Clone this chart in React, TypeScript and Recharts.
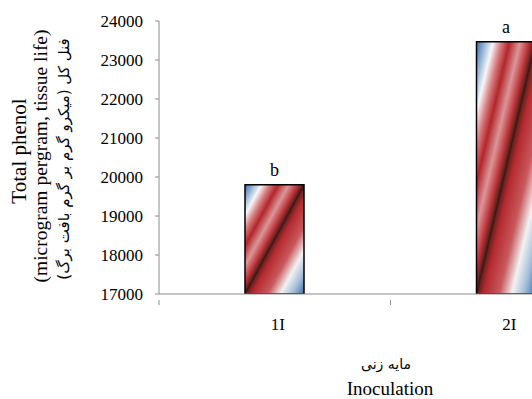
import React from "react";
import { BarChart, Bar, XAxis, YAxis, LabelList, Label } from "recharts";

// values
const categories = ["1I", "2I"];
const phenol = [19800, 23470];
const letters = ["b", "a"];
const yTicks = [17000, 18000, 19000, 20000, 21000, 22000, 23000, 24000];

const data = categories.map((c, i) => ({ name: c, phenol: phenol[i], letter: letters[i] }));

const SERIF = "'Liberation Serif', 'Times New Roman', serif";
const ARABIC = "'DejaVu Sans', 'Noto Sans', sans-serif";

function XTick(props: any) {
  const { x, y, payload } = props;
  const half = payload?.offset ?? 0;
  return (
    <g>
      <line x1={x - half} y1={y - 2} x2={x - half} y2={y + 3} stroke="#8c8c8c" strokeWidth={1} />
      <text x={x + 3} y={y + 28} textAnchor="middle" fontFamily={SERIF} fontSize={17} fill="#000">
        {payload.value}
      </text>
    </g>
  );
}

function YTick(props: any) {
  const { x, y, payload } = props;
  return (
    <text x={x} y={y} dy={6} textAnchor="end" fontFamily={SERIF} fontSize={17} fill="#000">
      {payload.value}
    </text>
  );
}

function YTitle(props: any) {
  return (
    <g>
      <text transform="translate(21, 151) rotate(-90)" textAnchor="middle" dominantBaseline="middle" fontFamily={SERIF} fontSize={21} fill="#000">
        Total phenol
      </text>
      <text transform="translate(43, 156) rotate(-90)" textAnchor="middle" dominantBaseline="middle" fontFamily={SERIF} fontSize={19.5} fill="#000">
        (microgram pergram, tissue life)
      </text>
      <text transform="translate(64, 159) rotate(-90)" textAnchor="middle" dominantBaseline="middle" fontFamily={ARABIC} fontSize={15} fill="#000" direction="rtl">
        فنل کل (میکرو گرم بر گرم بافت برگ)
      </text>
    </g>
  );
}

function XTitle() {
  return (
    <g>
      <text x={386} y={369} textAnchor="middle" fontFamily={ARABIC} fontSize={14} fill="#000" direction="rtl">
        مایه زنی
      </text>
      <text x={390} y={395} textAnchor="middle" fontFamily={SERIF} fontSize={19} fill="#000">
        Inoculation
      </text>
    </g>
  );
}

export default function App() {
  return (
    <div style={{ position: "absolute", left: 0, top: 0, width: 532, height: 399, overflow: "hidden", background: "#fff" }}>
      <BarChart width={640} height={399} data={data} margin={{ top: 21, right: 18, left: 0, bottom: 0 }} barSize={59}>
        <defs>
          <linearGradient id="barGrad" x1="0" y1="0" x2="1" y2="1">
            <stop offset="0" stopColor="#3d70a8" />
            <stop offset="0.07" stopColor="#93b2d4" />
            <stop offset="0.14" stopColor="#f5f7fa" />
            <stop offset="0.21" stopColor="#d47e80" />
            <stop offset="0.28" stopColor="#b3262b" />
            <stop offset="0.37" stopColor="#dc9597" />
            <stop offset="0.45" stopColor="#b83035" />
            <stop offset="0.485" stopColor="#6a2320" />
            <stop offset="0.5" stopColor="#3e1614" />
            <stop offset="0.515" stopColor="#6b2420" />
            <stop offset="0.56" stopColor="#b52a2f" />
            <stop offset="0.69" stopColor="#c9585c" />
            <stop offset="0.8" stopColor="#f4f1f1" />
            <stop offset="0.9" stopColor="#a3bdd8" />
            <stop offset="1" stopColor="#3d70a8" />
          </linearGradient>
        </defs>
        <XAxis
          dataKey="name"
          height={105}
          axisLine={{ stroke: "#8c8c8c" }}
          tickLine={false}
          tick={<XTick />}
        >
          <Label content={<XTitle />} />
        </XAxis>
        <YAxis
          width={159}
          domain={[17000, 24000]}
          ticks={yTicks}
          interval={0}
          allowDataOverflow
          axisLine={{ stroke: "#8c8c8c" }}
          tickLine={{ stroke: "#8c8c8c" }}
          tickSize={4}
          tickMargin={12}
          tick={<YTick />}
        >
          <Label content={<YTitle />} />
        </YAxis>
        <Bar dataKey="phenol" fill="url(#barGrad)" stroke="#000" strokeWidth={1.5} isAnimationActive={false}>
          <LabelList dataKey="letter" position="top" offset={9} fill="#000" fontSize={18} fontFamily={SERIF} />
        </Bar>
      </BarChart>
    </div>
  );
}
